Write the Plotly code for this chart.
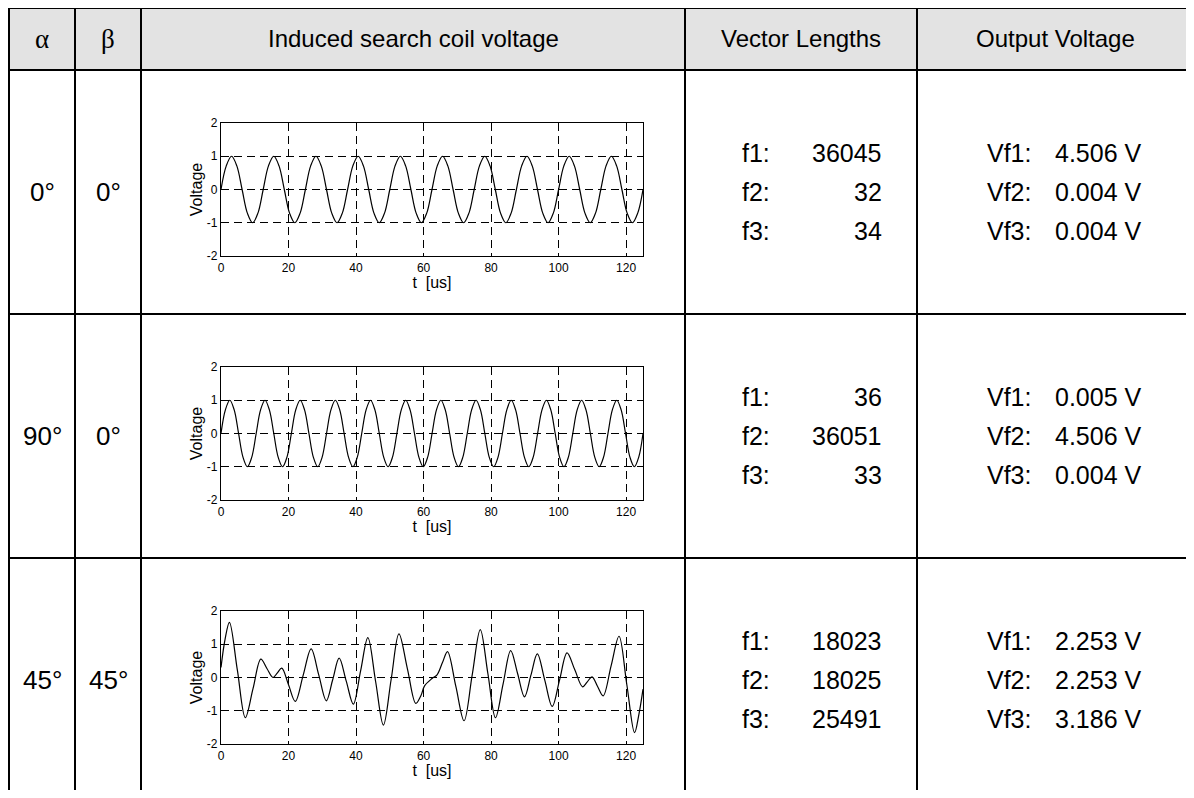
import plotly.graph_objects as go

# The page body keeps its default 8px margin, so the figure is sized to fit
# the 1194x798 window without scrolling and all pixel positions are shifted by that margin.
WIN_W, WIN_H = 1194, 798
PAGE_MARGIN = 8
W, H = WIN_W - PAGE_MARGIN, WIN_H - 2 * PAGE_MARGIN

# ---------------- data ----------------
HEADERS = ["α", "β", "Induced search coil voltage", "Vector Lengths", "Output Voltage"]
ALPHA = ["0°", "90°", "45°"]
BETA = ["0°", "0°", "45°"]
F_LABELS = ["f1:", "f2:", "f3:"]
VECTOR_LENGTHS = [[36045, 32, 34], [36, 36051, 33], [18023, 18025, 25491]]
VF_LABELS = ["Vf1:", "Vf2:", "Vf3:"]
OUTPUT_VOLTAGES = [[4.506, 0.004, 0.004], [0.005, 4.506, 0.004], [2.253, 2.253, 3.186]]
X_TICKS = [0, 20, 40, 60, 80, 100, 120]
X_TICK_TEXT = ["0", "20", "40", "60", "80", "100", "120"]
Y_TICKS = [-2, -1, 0, 1, 2]
Y_TICK_TEXT = ["-2", "-1", "0", "1", "2"]
X_TITLE = "t  [us]"
Y_TITLE = "Voltage"

T_ROW1 = [0, 1.56, 3.13, 4.69, 6.25, 7.81, 9.38, 10.94, 12.5,
          14.06, 15.63, 17.19, 18.75, 20.31, 21.88, 23.44, 25,
          26.56, 28.13, 29.69, 31.25, 32.81, 34.38, 35.94, 37.5,
          39.06, 40.63, 42.19, 43.75, 45.31, 46.88, 48.44, 50,
          51.56, 53.13, 54.69, 56.25, 57.81, 59.38, 60.94, 62.5,
          64.06, 65.63, 67.19, 68.75, 70.31, 71.88, 73.44, 75,
          76.56, 78.13, 79.69, 81.25, 82.81, 84.38, 85.94, 87.5,
          89.06, 90.63, 92.19, 93.75, 95.31, 96.88, 98.44, 100,
          101.56, 103.13, 104.69, 106.25, 107.81, 109.38, 110.94, 112.5,
          114.06, 115.63, 117.19, 118.75, 120.31, 121.88, 123.44, 125]
V_ROW1 = [0, 0.71, 1, 0.71, 0, -0.71, -1, -0.71,
          0, 0.71, 1, 0.71, 0, -0.71, -1, -0.71,
          0, 0.71, 1, 0.71, 0, -0.71, -1, -0.71,
          0, 0.71, 1, 0.71, 0, -0.71, -1, -0.71,
          0, 0.71, 1, 0.71, 0, -0.71, -1, -0.71,
          0, 0.71, 1, 0.71, 0, -0.71, -1, -0.71,
          0, 0.71, 1, 0.71, 0, -0.71, -1, -0.71,
          0, 0.71, 1, 0.71, 0, -0.71, -1, -0.71,
          0, 0.71, 1, 0.71, 0, -0.71, -1, -0.71,
          0, 0.71, 1, 0.71, 0, -0.71, -1, -0.71,
          0]

T_ROW2 = [0, 1.30, 2.61, 3.91, 5.21, 6.51, 7.82, 9.12,
          10.42, 11.72, 13.03, 14.33, 15.63, 16.93, 18.24, 19.54,
          20.84, 22.14, 23.45, 24.75, 26.05, 27.35, 28.66, 29.96,
          31.26, 32.56, 33.87, 35.17, 36.47, 37.77, 39.08, 40.38,
          41.68, 42.98, 44.29, 45.59, 46.89, 48.19, 49.50, 50.80,
          52.10, 53.40, 54.71, 56.01, 57.31, 58.61, 59.92, 61.22,
          62.52, 63.82, 65.13, 66.43, 67.73, 69.03, 70.34, 71.64,
          72.94, 74.24, 75.55, 76.85, 78.15, 79.45, 80.76, 82.06,
          83.36, 84.66, 85.97, 87.27, 88.57, 89.87, 91.18, 92.48,
          93.78, 95.08, 96.39, 97.69, 98.99, 100.29, 101.60, 102.90,
          104.20, 105.50, 106.81, 108.11, 109.41, 110.71, 112.02, 113.32,
          114.62, 115.92, 117.23, 118.53, 119.83, 121.13, 122.44, 123.74,
          125.0]
V_ROW2 = [0, 0.71, 1, 0.71, 0, -0.71, -1, -0.71,
          0, 0.71, 1, 0.71, 0, -0.71, -1, -0.71,
          0, 0.71, 1, 0.71, 0, -0.71, -1, -0.71,
          0, 0.71, 1, 0.71, 0, -0.71, -1, -0.71,
          0, 0.71, 1, 0.71, 0, -0.71, -1, -0.71,
          0, 0.71, 1, 0.71, 0, -0.71, -1, -0.71,
          0, 0.71, 1, 0.71, 0, -0.71, -1, -0.71,
          0, 0.71, 1, 0.71, 0, -0.71, -1, -0.71,
          0, 0.71, 1, 0.71, 0, -0.71, -1, -0.71,
          0, 0.71, 1, 0.71, 0, -0.71, -1, -0.71,
          0, 0.71, 1, 0.71, 0, -0.71, -1, -0.71,
          0, 0.71, 1, 0.71, 0, -0.71, -1, -0.71,
          0]

T_ROW3 = [0, 1.2, 2.5, 4.85, 7.2, 9.5, 11.8, 13.6, 15.4, 16.7, 18.0, 20.0,
          22.0, 24.35, 26.7, 28.95, 31.2, 33.1, 35.0, 37.1, 39.2, 41.35, 43.5,
          45.8, 48.1, 50.4, 52.7, 55.2, 57.7, 59.2, 60.3, 62.5, 64.0, 65.6,
          67.1, 69.55, 72.0, 74.4, 76.8, 79.05, 81.3, 83.55, 85.8, 87.85,
          89.9, 91.8, 93.7, 95.9, 98.1, 100.3, 102.5, 104.8, 107.1, 108.5,
          109.9, 111.55, 113.2, 115.55, 117.9, 120.2, 122.5, 123.8, 125]
V_ROW3 = [0.3, 1.15, 1.66, 0.22, -1.21, -0.33, 0.55, 0.27, 0.0, 0.14, 0.28, -0.22,
          -0.72, 0.07, 0.86, 0.08, -0.70, -0.06, 0.58, -0.11, -0.80, 0.2, 1.20,
          -0.12, -1.43, -0.06, 1.31, 0.27, -0.78, -0.55, -0.25, -0.03, 0.08, 0.45,
          0.78, -0.26, -1.30, 0.07, 1.44, 0.12, -1.21, -0.2, 0.81, 0.12,
          -0.58, 0.07, 0.71, -0.08, -0.87, -0.07, 0.74, 0.23, -0.28, -0.13,
          0.02, -0.27, -0.55, 0.35, 1.24, -0.21, -1.66, -1.1, -0.35]

SERIES = [(T_ROW1, V_ROW1), (T_ROW2, V_ROW2), (T_ROW3, V_ROW3)]

# ---------------- geometry (window pixels) ----------------
COL_EDGES = [9, 75, 141, 685, 917, 1200]
ROW_EDGES = [8, 70, 314, 558, 802]
PLOT_X = (221, 643)
PLOT_TOPS = [123, 367, 611]
PLOT_H = 133
SANS = "Liberation Sans, Arial, sans-serif"
SERIF = "Liberation Serif, Times New Roman, serif"


def px(x):
    return (x - PAGE_MARGIN) / W


def py(y):
    return 1 - (y - PAGE_MARGIN) / H


fig = go.Figure()
shapes = []
annotations = []

# header background
shapes.append(dict(type="rect", xref="paper", yref="paper", layer="below",
                   x0=px(COL_EDGES[0]), x1=px(COL_EDGES[-1]),
                   y0=py(ROW_EDGES[0]), y1=py(ROW_EDGES[1]),
                   fillcolor="#e3e3e3", line=dict(width=0)))
# horizontal lines
for y in ROW_EDGES[:-1]:
    shapes.append(dict(type="line", xref="paper", yref="paper",
                       x0=px(COL_EDGES[0] - 1), x1=px(COL_EDGES[-1]), y0=py(y), y1=py(y),
                       line=dict(color="black", width=2)))
# vertical lines
for x in COL_EDGES:
    shapes.append(dict(type="line", xref="paper", yref="paper",
                       x0=px(x), x1=px(x), y0=py(ROW_EDGES[0] - 1), y1=py(ROW_EDGES[-1]),
                       line=dict(color="black", width=2)))

# header text
hy = (ROW_EDGES[0] + ROW_EDGES[1]) / 2
for i, h in enumerate(HEADERS):
    cx = (COL_EDGES[i] + COL_EDGES[i + 1]) / 2
    if i == 4:
        cx = 1055
    fnt = dict(family=SERIF, size=27, color="black") if i < 2 else dict(family=SANS, size=24, color="black")
    annotations.append(dict(xref="paper", yref="paper", x=px(cx), y=py(hy), text=h,
                            showarrow=False, xanchor="center", yanchor="middle", font=fnt))

# body text
for r in range(3):
    cy = (ROW_EDGES[r + 1] + ROW_EDGES[r + 2]) / 2
    for c, txt in ((0, ALPHA[r]), (1, BETA[r])):
        cx = (COL_EDGES[c] + COL_EDGES[c + 1]) / 2
        annotations.append(dict(xref="paper", yref="paper", x=px(cx), y=py(cy), text=txt,
                                showarrow=False, xanchor="center", yanchor="middle",
                                font=dict(family=SANS, size=26, color="black")))
    for k in range(3):
        ly = cy + (k - 1) * 39
        annotations.append(dict(xref="paper", yref="paper", x=px(740), y=py(ly), text=F_LABELS[k],
                                showarrow=False, xanchor="left", yanchor="middle",
                                font=dict(family=SANS, size=25, color="black")))
        annotations.append(dict(xref="paper", yref="paper", x=px(884), y=py(ly),
                                text=str(VECTOR_LENGTHS[r][k]),
                                showarrow=False, xanchor="right", yanchor="middle",
                                font=dict(family=SANS, size=25, color="black")))
        annotations.append(dict(xref="paper", yref="paper", x=px(985), y=py(ly), text=VF_LABELS[k],
                                showarrow=False, xanchor="left", yanchor="middle",
                                font=dict(family=SANS, size=25, color="black")))
        annotations.append(dict(xref="paper", yref="paper", x=px(1053), y=py(ly),
                                text=f"{OUTPUT_VOLTAGES[r][k]:.3f} V",
                                showarrow=False, xanchor="left", yanchor="middle",
                                font=dict(family=SANS, size=25, color="black")))

# plots
layout_axes = {}
for r, (t, v) in enumerate(SERIES):
    sfx = "" if r == 0 else str(r + 1)
    fig.add_trace(go.Scatter(x=t, y=v, mode="lines", line=dict(color="black", width=1.2, shape="spline"),
                             xaxis="x" + sfx, yaxis="y" + sfx, showlegend=False, hoverinfo="skip"))
    top = PLOT_TOPS[r]
    common = dict(showline=True, mirror=True, linecolor="black", linewidth=1.2,
                  showgrid=True, gridcolor="black", gridwidth=1, griddash="8px,5px",
                  zeroline=False, ticks="inside", ticklen=3, tickcolor="black", automargin=False,
                  tickfont=dict(family=SANS, size=12, color="black"))
    layout_axes["xaxis" + sfx] = dict(common, domain=[px(PLOT_X[0]), px(PLOT_X[1])], range=[0, 125],
                                      tickvals=X_TICKS, ticktext=X_TICK_TEXT, anchor="y" + sfx,
                                      title=dict(text=X_TITLE, standoff=2,
                                                 font=dict(family=SANS, size=16, color="black")))
    layout_axes["yaxis" + sfx] = dict(common, domain=[py(top + PLOT_H), py(top)], range=[-2, 2],
                                      tickvals=Y_TICKS, ticktext=Y_TICK_TEXT, anchor="x" + sfx,
                                      title=dict(text=Y_TITLE, standoff=0,
                                                 font=dict(family=SANS, size=16, color="black")))

fig.update_layout(width=W, height=H, margin=dict(l=0, r=0, t=0, b=0, pad=0),
                  paper_bgcolor="white", plot_bgcolor="white",
                  shapes=shapes, annotations=annotations, **layout_axes)

fig.write_html("out.html", config={"displayModeBar": False})
